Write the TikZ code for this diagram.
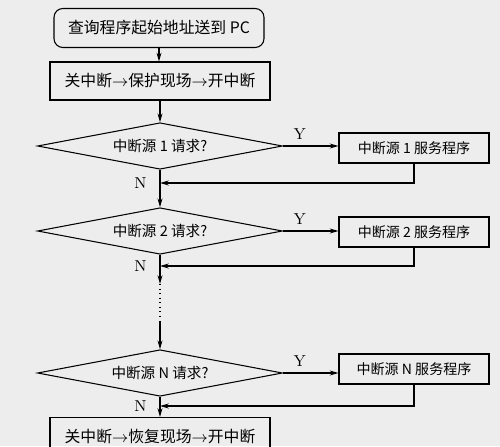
\documentclass[tikz,border=0pt]{standalone}
\usepackage{fontspec}
\newfontfamily\cjk{Noto Sans CJK SC}
\usetikzlibrary{calc}
\usetikzlibrary{arrows.meta}
\usetikzlibrary{shapes.geometric}

\begin{document}
\begin{tikzpicture}[x=0.02cm,y=-0.02cm,line width=0.6pt,
    >={Stealth[length=5pt,width=2.8pt]},
    startbox/.style={draw,rounded corners=5pt,font=\cjk\fontsize{9}{11}\selectfont,
        minimum width=4.2cm,minimum height=0.78cm,inner sep=0pt},
    bigbox/.style={draw,font=\cjk\fontsize{9}{11}\selectfont,
        minimum width=4.4cm,minimum height=0.76cm,inner sep=0pt},
    ask/.style={draw,diamond,aspect=5.2,font=\cjk\fontsize{8.3}{10}\selectfont,
        minimum width=4.9cm,minimum height=0.93cm,inner sep=0pt},
    serve/.style={draw,font=\cjk\fontsize{8}{10}\selectfont,
        minimum width=3cm,minimum height=0.6cm,inner sep=0pt},
    lbl/.style={font=\fontsize{9}{11}\selectfont}]
                    \fill[black!7] (0,0) rectangle (500,446);
                    \clip (0,0) rectangle (500,446);

                    \node[startbox] (start) at (159,28) {查询程序起始地址送到 PC};
                    \node[bigbox] (save) at (160,81) {关中断$\rightarrow$保护现场$\rightarrow$开中断};

                    \node[ask] (q1) at (160,146) {中断源 1 请求?};
                    \node[serve] (s1) at (414,148) {中断源 1 服务程序};
                    \node[ask] (q2) at (160,231) {中断源 2 请求?};
                    \node[serve] (s2) at (414,232) {中断源 2 服务程序};
                    \node[ask] (qn) at (160,373) {中断源 N 请求?};
                    \node[serve] (sn) at (414,369) {中断源 N 服务程序};

                    \node[bigbox,anchor=north] (restore) at (160,417)
                        {关中断$\rightarrow$恢复现场$\rightarrow$开中断};

                    \coordinate (m1) at (160,183);
                    \coordinate (m2) at (160,266);
                    \coordinate (mn) at (160,406);
                    \coordinate (d1) at (160,284);
                    \coordinate (d2) at (160,322);

                    \draw[->] (start.south) -- (start.south |- save.north);
                    \draw[->] (save) -- (q1);

                    \draw[->] (q1.east) -- node[lbl,above,pos=0.3] (y1) {Y} (q1.east -| s1.west);
                    \draw[->] (s1.south) |- (m1);
                    \node[lbl,left=4pt] (n1) at (m1) {N};
                    \draw[->] (q1.south) -- (q2.north);

                    \draw[->] (q2.east) -- node[lbl,above,pos=0.3] (y2) {Y} (q2.east -| s2.west);
                    \draw[->] (s2.south) |- (m2);
                    \node[lbl,left=4pt] (n2) at (m2) {N};
                    \draw[->] (q2.south) -- (d1);
                    \draw[dotted] (d1) -- (d2);
                    \draw[->] (d2) -- (qn.north);

                    \draw[->] (qn.east) -- node[lbl,above,pos=0.3] (yn) {Y} (qn.east -| sn.west);
                    \draw[->] (sn.south) |- (mn);
                    \node[lbl,left=4pt] (nn) at (mn) {N};
                    \draw[->] (qn.south) -- (restore.north);
\end{tikzpicture}
\end{document}
